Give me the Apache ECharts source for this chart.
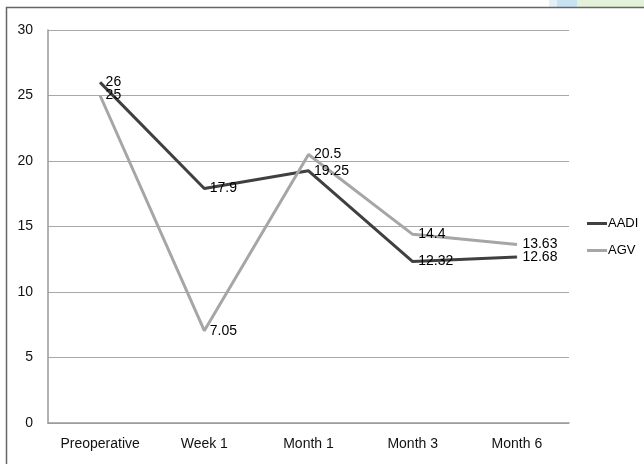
<!DOCTYPE html>
<html>
<head>
<meta charset="utf-8">
<script src="https://cdn.jsdelivr.net/npm/echarts@6/dist/echarts.min.js"></script>
<style>
html,body{margin:0;padding:0;background:#fff;}
#c{width:644px;height:464px;}
</style>
</head>
<body>
<div id="c"></div>
<script>
var categories = ['Preoperative', 'Week 1', 'Month 1', 'Month 3', 'Month 6'];
var aadi = [26, 17.9, 19.25, 12.32, 12.68];
var agv = [25, 7.05, 20.5, 14.4, 13.63];
var yTicks = [0, 5, 10, 15, 20, 25, 30];

var chart = echarts.init(document.getElementById('c'));
var font = 'Liberation Sans, Arial, sans-serif';
function mkSeries(name, data, color) {
  return {
    name: name,
    type: 'line',
    data: data,
    symbol: 'circle',
    symbolSize: 1,
    itemStyle: { color: color },
    lineStyle: { color: color, width: 3 },
    label: {
      show: true,
      position: 'right',
      distance: 5,
      color: '#000',
      fontFamily: font,
      fontSize: 14
    },
    animation: false
  };
}
chart.setOption({
  animation: false,
  graphic: [
    { type: 'rect', shape: { x: 549, y: 0, width: 30, height: 7 }, style: { fill: '#e3f0f8' } },
    { type: 'rect', shape: { x: 557, y: 0, width: 20, height: 7 }, style: { fill: '#c8e2f2' } },
    { type: 'rect', shape: { x: 577, y: 0, width: 67, height: 7 }, style: { fill: '#e2f1d8' } },
    { type: 'rect', shape: { x: 6.5, y: 7.5, width: 700, height: 500 }, style: { fill: 'none', stroke: '#666', lineWidth: 1.5 } }
  ],
  grid: { left: 48, right: 75, top: 30, bottom: 41 },
  legend: {
    orient: 'vertical',
    left: 582,
    top: 212,
    itemWidth: 20,
    itemHeight: 3,
    itemGap: 14,
    icon: 'rect',
    textStyle: { fontFamily: font, fontSize: 13, color: '#000', padding: [0, 0, 0, -4] },
    data: ['AADI', 'AGV']
  },
  xAxis: {
    type: 'category',
    data: categories,
    boundaryGap: true,
    axisLine: { lineStyle: { color: '#999', width: 1.5 } },
    axisTick: { show: false },
    axisLabel: { color: '#111', fontFamily: font, fontSize: 14, margin: 14 }
  },
  yAxis: {
    type: 'value',
    min: yTicks[0],
    max: yTicks[yTicks.length - 1],
    interval: 5,
    axisLine: { show: true, lineStyle: { color: '#999', width: 1.5 } },
    axisTick: { show: false },
    splitLine: { lineStyle: { color: '#a8a8a8', width: 1.2 } },
    axisLabel: { color: '#111', fontFamily: font, fontSize: 14, margin: 15 }
  },
  series: [
    mkSeries('AADI', aadi, '#404040'),
    mkSeries('AGV', agv, '#a6a6a6')
  ]
});
</script>
</body>
</html>
